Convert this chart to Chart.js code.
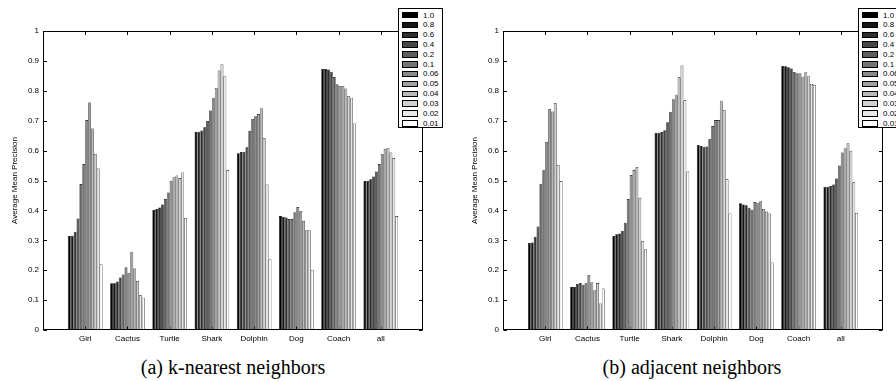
<!DOCTYPE html>
<html><head><meta charset="utf-8">
<script src="https://cdn.jsdelivr.net/npm/chart.js@4"></script>
<style>
html,body{margin:0;padding:0;background:#fff;overflow:hidden;width:896px;height:381px;}
#wrap{position:relative;width:896px;height:381px;overflow:hidden;}
canvas{position:absolute;top:0;}
.legend{position:absolute;top:8px;width:45px;height:120px;border:1px solid #000;background:#fff;box-sizing:border-box;padding-top:1.5px;font:8px "Liberation Sans",Arial,sans-serif;color:#000;}
.row{height:9.83px;position:relative;}
.sw{position:absolute;left:2.5px;top:1.4px;width:16px;height:6.5px;border:0.6px solid #000;box-sizing:border-box;}
.lt{position:absolute;left:24px;top:0;line-height:9.83px;white-space:nowrap;}
.cap{position:absolute;top:356px;width:400px;text-align:center;line-height:22px;font:20px "Liberation Serif","Times New Roman",serif;color:#000;}
</style></head>
<body>
<div id="wrap">
  <canvas id="c1" width="448" height="350" style="left:0"></canvas>
  <canvas id="c2" width="448" height="350" style="left:460px"></canvas>
  <div class="legend" id="lg1" style="left:398px"></div>
  <div class="legend" id="lg2" style="left:858px"></div>
  <div class="cap" style="left:33px">(a) k-nearest neighbors</div>
  <div class="cap" style="left:492px">(b) adjacent neighbors</div>
</div>
<script>
const categories = ['Girl','Cactus','Turtle','Shark','Dolphin','Dog','Coach','all'];
const seriesLabels = ['1.0','0.8','0.6','0.4','0.2','0.1','0.06','0.05','0.04','0.03','0.02','0.01'];
const yTicks = [0,0.1,0.2,0.3,0.4,0.5,0.6,0.7,0.8,0.9,1];
const yTickLabels = ['0','0.1','0.2','0.3','0.4','0.5','0.6','0.7','0.8','0.9','1'];
const yTitle = 'Average Mean Precision';

// (a) k-nearest neighbors: one array per category, 12 values (one per series)
const knnGirl    = [0.314,0.315,0.329,0.373,0.488,0.555,0.702,0.761,0.674,0.589,0.540,0.220];
const knnCactus  = [0.156,0.156,0.162,0.176,0.186,0.210,0.191,0.262,0.206,0.164,0.116,0.108];
const knnTurtle  = [0.401,0.405,0.410,0.420,0.438,0.460,0.499,0.511,0.517,0.508,0.527,0.375];
const knnShark   = [0.662,0.663,0.667,0.678,0.699,0.734,0.777,0.810,0.868,0.889,0.849,0.535];
const knnDolphin = [0.591,0.595,0.596,0.611,0.666,0.706,0.715,0.722,0.742,0.641,0.487,0.237];
const knnDog     = [0.381,0.379,0.376,0.371,0.371,0.394,0.411,0.397,0.365,0.334,0.334,0.201];
const knnCoach   = [0.873,0.873,0.871,0.864,0.846,0.822,0.816,0.816,0.808,0.783,0.777,0.691];
const knnAll     = [0.498,0.499,0.504,0.513,0.530,0.555,0.589,0.606,0.609,0.594,0.575,0.381];

// (b) adjacent neighbors
const adjGirl    = [0.291,0.293,0.312,0.346,0.489,0.534,0.629,0.738,0.731,0.758,0.552,0.498];
const adjCactus  = [0.145,0.144,0.154,0.157,0.151,0.156,0.184,0.160,0.133,0.157,0.089,0.139];
const adjTurtle  = [0.314,0.320,0.323,0.332,0.359,0.438,0.518,0.535,0.544,0.442,0.298,0.270];
const adjShark   = [0.660,0.660,0.662,0.668,0.695,0.728,0.772,0.787,0.845,0.885,0.768,0.530];
const adjDolphin = [0.619,0.615,0.613,0.614,0.639,0.682,0.702,0.702,0.767,0.736,0.504,0.390];
const adjDog     = [0.424,0.420,0.417,0.409,0.402,0.428,0.426,0.431,0.405,0.396,0.390,0.226];
const adjCoach   = [0.883,0.882,0.879,0.875,0.863,0.859,0.859,0.847,0.862,0.849,0.823,0.820];
const adjAll     = [0.479,0.479,0.482,0.487,0.507,0.550,0.594,0.608,0.625,0.599,0.494,0.392];

const knnRows = [knnGirl,knnCactus,knnTurtle,knnShark,knnDolphin,knnDog,knnCoach,knnAll];
const adjRows = [adjGirl,adjCactus,adjTurtle,adjShark,adjDolphin,adjDog,adjCoach,adjAll];

// styling
const FONT = '"Liberation Sans", Arial, Helvetica, sans-serif';
const seriesColors = seriesLabels.map((_, i) => {
  const g = Math.round(255 * i / (seriesLabels.length - 1));
  return `rgb(${g},${g},${g})`;
});

function buildDatasets(rows) {
  return seriesLabels.map((lab, s) => ({
    label: lab,
    data: [null, ...rows.map(r => r[s]), null],
    backgroundColor: seriesColors[s],
    borderColor: '#000',
    borderWidth: 0.6,
    borderSkipped: false
  }));
}

const framePlugin = {
  id: 'frame',
  beforeDatasetsDraw(chart) {
    const {ctx, chartArea: a, scales: {x}} = chart;
    ctx.save();
    ctx.strokeStyle = '#000'; ctx.lineWidth = 1;
    ctx.beginPath();
    categories.forEach((c, i) => {
      const px = Math.round(x.getPixelForValue(i + 1)) + 0.5;
      ctx.moveTo(px, a.bottom); ctx.lineTo(px, a.bottom - 3.5);
    });
    ctx.stroke();
    ctx.restore();
  },
  afterDatasetsDraw(chart) {
    const {ctx, chartArea: a, scales: {x, y}} = chart;
    ctx.save();
    ctx.strokeStyle = '#000'; ctx.lineWidth = 1;
    const L = Math.round(a.left) + 0.5, R = Math.round(a.right) - 0.5;
    const T = Math.round(a.top) + 0.5, B = Math.round(a.bottom) - 0.5;
    ctx.strokeRect(L, T, R - L, B - T);
    ctx.beginPath();
    yTicks.forEach(v => {
      const py = Math.round(y.getPixelForValue(v)) + 0.5;
      ctx.moveTo(L, py); ctx.lineTo(L + 3.5, py);
      ctx.moveTo(R, py); ctx.lineTo(R - 3.5, py);
    });
    categories.forEach((c, i) => {
      const px = Math.round(x.getPixelForValue(i + 1)) + 0.5;
      ctx.moveTo(px, T); ctx.lineTo(px, T + 3.5);
    });
    ctx.stroke();
    ctx.restore();
  }
};

function makeChart(id, rows) {
  return new Chart(document.getElementById(id), {
    type: 'bar',
    data: { labels: ['', ...categories, ''], datasets: buildDatasets(rows) },
    options: {
      responsive: false, animation: false, devicePixelRatio: 1,
      layout: { padding: { top: 31, right: 25, left: 0, bottom: 0 } },
      plugins: { legend: { display: false }, tooltip: { enabled: false } },
      datasets: { bar: { categoryPercentage: 0.82, barPercentage: 1 } },
      scales: {
        x: {
          type: 'category', offset: false,
          grid: { display: false, drawTicks: false }, border: { display: false },
          ticks: { autoSkip: false, maxRotation: 0, minRotation: 0, padding: 4, color: '#000', font: { size: 8, family: FONT } },
          afterFit(s) { s.height = 20; }
        },
        y: {
          min: 0, max: 1,
          afterBuildTicks(s) { s.ticks = yTicks.map(v => ({ value: v })); },
          grid: { display: false, drawTicks: false }, border: { display: false },
          ticks: { padding: 4, color: '#000', font: { size: 8, family: FONT }, callback: (v, i) => yTickLabels[i] },
          title: { display: true, text: yTitle, color: '#000', font: { size: 8, family: FONT }, padding: { top: 10, bottom: 0 } },
          afterFit(s) { s.width = 43; }
        }
      }
    },
    plugins: [framePlugin]
  });
}

function buildLegend(id) {
  const el = document.getElementById(id);
  seriesLabels.forEach((lab, i) => {
    const row = document.createElement('div'); row.className = 'row';
    const sw = document.createElement('div'); sw.className = 'sw'; sw.style.background = seriesColors[i];
    const t = document.createElement('div'); t.className = 'lt'; t.textContent = lab;
    row.appendChild(sw); row.appendChild(t); el.appendChild(row);
  });
}

makeChart('c1', knnRows);
makeChart('c2', adjRows);
buildLegend('lg1');
buildLegend('lg2');
</script>
</body></html>
